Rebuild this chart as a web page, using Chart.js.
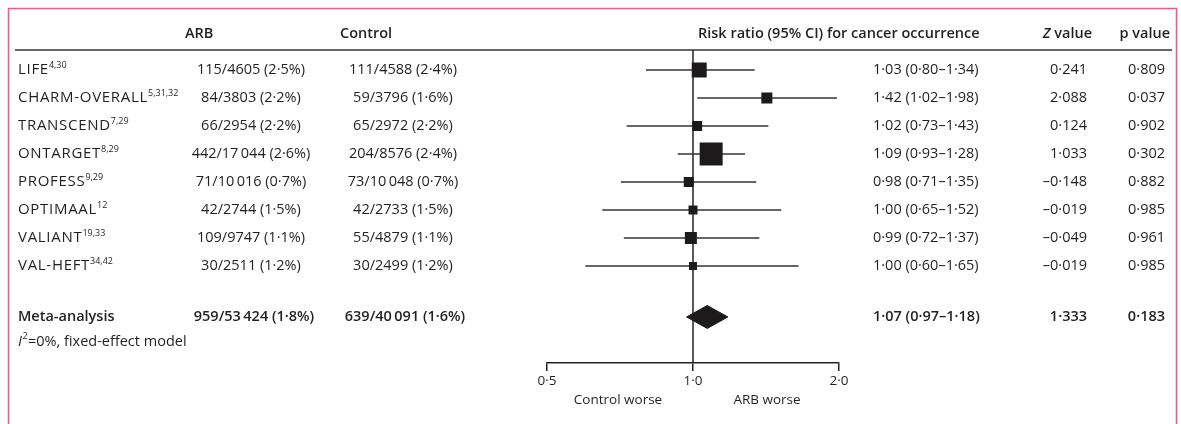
<!DOCTYPE html>
<html><head><meta charset="utf-8">
<script src="https://cdn.jsdelivr.net/npm/chart.js@4/dist/chart.umd.min.js"></script>
<style>html,body{margin:0;padding:0;background:#fff}canvas{display:block}</style>
</head><body>
<canvas id="c" width="1181" height="424"></canvas>
<script>
// ---- data ----
const studies = ['LIFE','CHARM-OVERALL','TRANSCEND','ONTARGET','PROFESS','OPTIMAAL','VALIANT','VAL-HEFT'];
const refs = ['4,30','5,31,32','7,29','8,29','9,29','12','19,33','34,42'];
const arbText = ['115/4605 (2·5%)','84/3803 (2·2%)','66/2954 (2·2%)','442/17\u2009044 (2·6%)','71/10\u2009016 (0·7%)','42/2744 (1·5%)','109/9747 (1·1%)','30/2511 (1·2%)'];
const controlText = ['111/4588 (2·4%)','59/3796 (1·6%)','65/2972 (2·2%)','204/8576 (2·4%)','73/10\u2009048 (0·7%)','42/2733 (1·5%)','55/4879 (1·1%)','30/2499 (1·2%)'];
const rr = [1.03,1.42,1.02,1.09,0.98,1.00,0.99,1.00];
const ciLow = [0.80,1.02,0.73,0.93,0.71,0.65,0.72,0.60];
const ciHigh = [1.34,1.98,1.43,1.28,1.35,1.52,1.37,1.65];
const zText = ['0·241','2·088','0·124','1·033','–0·148','–0·019','–0·049','–0·019'];
const pText = ['0·809','0·037','0·902','0·302','0·882','0·985','0·961','0·985'];
const weights = [16.5, 8.9, 7.3, 38.8, 7.3, 5.9, 10.6, 4.7]; // relative study weight (%)
const metaLabel = 'Meta-analysis';
const metaArb = '959/53\u2009424 (1·8%)';
const metaControl = '639/40\u2009091 (1·6%)';
const metaRR = 1.07, metaLow = 0.97, metaHigh = 1.18;
const metaZ = '1·333';
const metaP = '0·183';
const heterogeneity = '=0%, fixed-effect model';
const tickValues = [0.5, 1.0, 2.0];
const tickLabels = ['0·5','1·0','2·0'];
const sideLabels = ['Control worse','ARB worse'];
const headers = ['ARB','Control','Risk ratio (95% CI) for cancer occurrence','value','p value'];

// ---- layout constants ----
const FONT = '"Open Sans", "Noto Sans", sans-serif';
const FS = 14.5;
const INK = '#231f20';
const rowPos = studies.map((s,i)=>i);
const metaPos = 8.82;
const hetPos = 9.71;

const fmt = v => v.toFixed(2).replace('.', '·');

const squares = {
  data: rr.map((v,i)=>({x:v, y:rowPos[i]})),
  pointStyle:'rect',
  pointRadius: weights.map(w => 3.69*Math.sqrt(w)/Math.SQRT2),
  backgroundColor:'#1c1a1b', borderWidth:0, showLine:false
};
const diamond = {
  data:[{x:metaLow,y:metaPos},{x:metaRR,y:metaPos-0.41},{x:metaHigh,y:metaPos},{x:metaRR,y:metaPos+0.41},{x:metaLow,y:metaPos}],
  showLine:true, fill:'shape', backgroundColor:'#1c1a1b', borderColor:'#1c1a1b', borderWidth:1, pointRadius:0, tension:0
};
const ciSets = studies.map((s,i)=>({
  data:[{x:ciLow[i],y:rowPos[i]},{x:ciHigh[i],y:rowPos[i]}],
  showLine:true, borderColor:'#333', borderWidth:1.5, pointRadius:0, fill:false
}));

function txt(ctx, s, x, y, align, font){
  ctx.font = font; ctx.textAlign = align; ctx.fillText(s, x, y);
}

const forestPlugin = {
  id:'forest',
  beforeDatasetsDraw(chart){
    const ctx = chart.ctx, xs = chart.scales.x, a = chart.chartArea;
    ctx.save();
    // pink frame
    ctx.strokeStyle = '#dd6288'; ctx.lineWidth = 1.5;
    ctx.beginPath();
    ctx.moveTo(8.5, 424); ctx.lineTo(8.5, 8.5); ctx.lineTo(1176.5, 8.5); ctx.lineTo(1176.5, 424);
    ctx.stroke();
    // header rule
    ctx.strokeStyle = '#333'; ctx.lineWidth = 1.5;
    ctx.beginPath(); ctx.moveTo(15, a.top); ctx.lineTo(1172, a.top); ctx.stroke();
    // reference line at RR = 1
    const x1 = Math.round(xs.getPixelForValue(1)) ;
    ctx.strokeStyle = '#222'; ctx.lineWidth = 1.5;
    ctx.beginPath(); ctx.moveTo(x1, a.top); ctx.lineTo(x1, a.bottom); ctx.stroke();
    ctx.restore();
  },
  afterDraw(chart){
    const ctx = chart.ctx, ys = chart.scales.y, xs = chart.scales.x;
    ctx.save();
    ctx.fillStyle = INK; ctx.textBaseline = 'middle';
    const reg = `${FS}px ${FONT}`, bold = `600 ${FS}px ${FONT}`, sup = `9px ${FONT}`;
    // headers
    const hy = 34;
    txt(ctx, headers[0], 185, hy, 'left', bold);
    txt(ctx, headers[1], 340, hy, 'left', bold);
    txt(ctx, headers[2], 698, hy, 'left', bold);
    ctx.font = bold; const vw = ctx.measureText(headers[3]).width;
    ctx.font = bold; ctx.textAlign='right'; ctx.fillText(headers[3], 1092, hy);
    ctx.font = `italic 600 ${FS}px ${FONT}`; ctx.fillText('Z ', 1092 - vw, hy);
    txt(ctx, headers[4], 1170, hy, 'right', bold);
    // study rows
    studies.forEach((s,i)=>{
      const y = ys.getPixelForValue(rowPos[i]);
      ctx.font = `15px ${FONT}`; ctx.textAlign='left';
      ctx.letterSpacing = '0.7px';
      ctx.fillText(s, 18, y);
      const w = ctx.measureText(s).width;
      ctx.letterSpacing = '0px';
      txt(ctx, refs[i], 18 + w, y - 5, 'left', sup);
      txt(ctx, arbText[i], 251, y, 'center', reg);
      txt(ctx, controlText[i], 403, y, 'center', reg);
      txt(ctx, `${fmt(rr[i])} (${fmt(ciLow[i])}–${fmt(ciHigh[i])})`, 873, y, 'left', reg);
      txt(ctx, zText[i], 1087, y, 'right', reg);
      txt(ctx, pText[i], 1165, y, 'right', reg);
    });
    // meta row
    const my = ys.getPixelForValue(metaPos);
    txt(ctx, metaLabel, 18, my, 'left', bold);
    txt(ctx, metaArb, 254, my, 'center', bold);
    txt(ctx, metaControl, 405, my, 'center', bold);
    txt(ctx, `${fmt(metaRR)} (${fmt(metaLow)}–${fmt(metaHigh)})`, 873, my, 'left', bold);
    txt(ctx, metaZ, 1087, my, 'right', bold);
    txt(ctx, metaP, 1165, my, 'right', bold);
    // heterogeneity
    const hy2 = ys.getPixelForValue(hetPos);
    ctx.font = `italic ${FS}px ${FONT}`; ctx.textAlign='left'; ctx.fillText('I', 18, hy2);
    const iw = ctx.measureText('I').width;
    txt(ctx, '2', 18 + iw + 0.5, hy2 - 5, 'left', sup);
    txt(ctx, heterogeneity, 18 + iw + 6, hy2, 'left', reg);
    // side labels
    const sy = 400;
    txt(ctx, sideLabels[0], xs.getPixelForValue(Math.SQRT1_2) - 2, sy, 'center', `13.5px ${FONT}`);
    txt(ctx, sideLabels[1], xs.getPixelForValue(Math.SQRT2) + 1, sy, 'center', `13.5px ${FONT}`);
    ctx.restore();
  }
};

new Chart(document.getElementById('c'), {
  type:'scatter',
  data:{datasets:[squares, diamond, ...ciSets]},
  options:{
    responsive:false, animation:false, devicePixelRatio:1, events:[],
    layout:{padding:{left:547, right:342, top:50, bottom:0}},
    plugins:{legend:{display:false}, tooltip:{enabled:false}},
    scales:{
      x:{
        type:'logarithmic', min:0.5, max:2, position:'bottom',
        afterBuildTicks: s => { s.ticks = tickValues.map(v=>({value:v})); },
        afterFit: s => { s.height = 61; },
        grid:{drawOnChartArea:false, drawTicks:true, tickLength:8, color:'#222', lineWidth:1.5},
        border:{display:true, color:'#222', width:1.5},
        ticks:{callback:(v,i)=>tickLabels[i], font:{family:FONT, size:13.5}, color:INK, padding:2, maxRotation:0, autoSkip:false}
      },
      y:{type:'linear', reverse:true, min:-0.714, max:10.464, display:false}
    }
  },
  plugins:[forestPlugin]
});
</script>
</body></html>
